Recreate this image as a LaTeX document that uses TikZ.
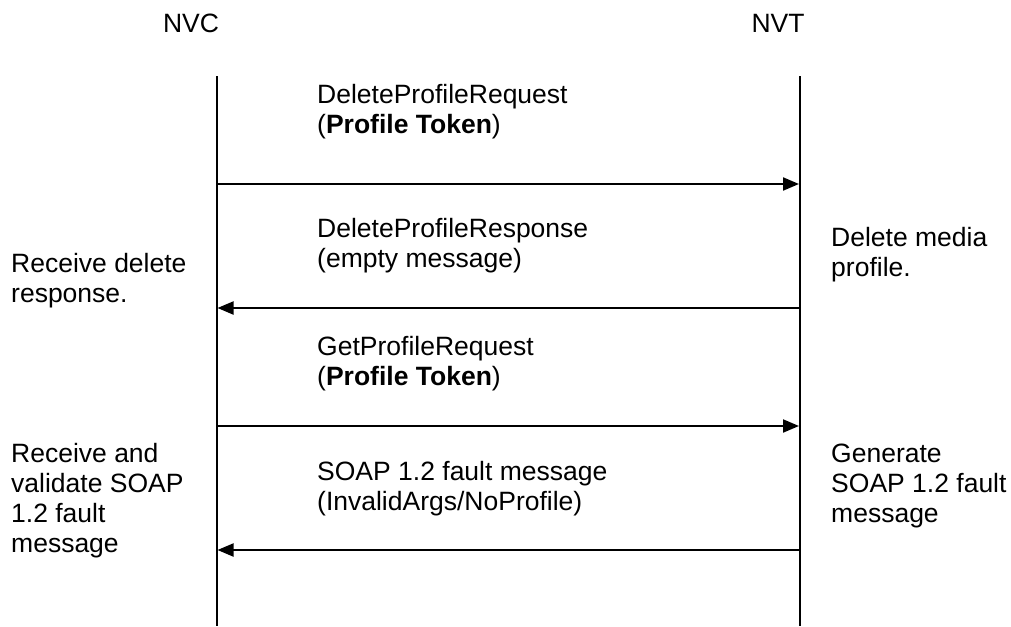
\documentclass[tikz,border=0pt]{standalone}
\usepackage{fontspec}
\setmainfont{Liberation Sans}
\usetikzlibrary{arrows.meta}
\begin{document}
\begin{tikzpicture}[x=1pt,y=-1pt,
  txt/.style={anchor=base west, inner sep=0pt, align=left, font=\fontsize{26.5}{30}\selectfont},
  head/.style={anchor=base, inner sep=0pt, font=\fontsize{26.5}{30}\selectfont},
  life/.style={line width=2pt},
  msg/.style={line width=2pt, -{Triangle[length=16pt,width=13pt]}}]
\useasboundingbox[fill=white] (0,0) rectangle (1011,626);
% headers
\node[head] (nvc) at (191,33) {NVC};
\node[head] (nvt) at (778,33) {NVT};
% lifelines
\coordinate (cT) at (216.5,76);
\coordinate (cB) at (216.5,626);
\coordinate (tT) at (800,76);
\coordinate (tB) at (800,626);
\draw[life] (cT) -- (cB);
\draw[life] (tT) -- (tB);
% message end points
\coordinate (c1) at (216.5,184); \coordinate (t1) at (799,184);
\coordinate (c2) at (217.5,308); \coordinate (t2) at (800,308);
\coordinate (c3) at (216.5,426); \coordinate (t3) at (799,426);
\coordinate (c4) at (217.5,550); \coordinate (t4) at (800,550);
\draw[msg] (c1) -- (t1);
\draw[msg] (t2) -- (c2);
\draw[msg] (c3) -- (t3);
\draw[msg] (t4) -- (c4);
% message labels (anchored at the baseline of the last line)
\node[txt] (m1) at (317,133) {DeleteProfileRequest\\(\textbf{Profile Token})};
\node[txt] (m2) at (317,267) {DeleteProfileResponse\\(empty message)};
\node[txt] (m3) at (317,385) {GetProfileRequest\\(\textbf{Profile Token})};
\node[txt] (m4) at (317,510) {SOAP 1.2 fault message\\(InvalidArgs/NoProfile)};
% side notes
\node[txt] (l1) at (11,302) {Receive delete\\response.};
\node[txt] (l2) at (11,552) {Receive and\\validate SOAP\\1.2 fault\\message};
\node[txt] (r1) at (831,276) {Delete media\\profile.};
\node[txt] (r2) at (831,522) {Generate\\SOAP 1.2 fault\\message};
\end{tikzpicture}
\end{document}
